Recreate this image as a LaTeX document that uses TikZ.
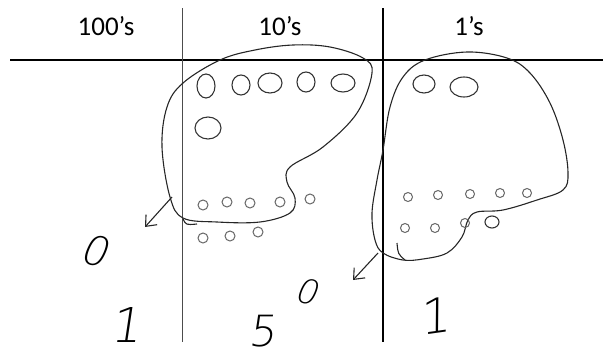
\documentclass[tikz,border=0pt]{standalone}
\usepackage{fontspec}
\setmainfont{Carlito}
\newfontfamily\penfont{DejaVu Sans ExtraLight}[FakeSlant=0.15]
\usetikzlibrary{arrows.meta}

\begin{document}
\begin{tikzpicture}[x=1pt, y=-1pt,
          rule/.style={draw=black, line width=1.4pt},
          ring/.style={draw=black!85, line width=1.1pt},
          bigbead/.style={draw=black!80, line width=1.1pt},
          bead/.style={draw=black!60, line width=1pt},
          penarrow/.style={draw=black!85, line width=1.1pt, -{Straight Barb[length=9pt,width=15pt]}},
          head/.style={font=\fontsize{27}{32}\selectfont, anchor=base, inner sep=0pt},
          digit/.style={inner sep=0pt, text=black},
        ]
        \useasboundingbox (0,0) rectangle (603,356);
        \draw[rule] (10,60) -- (603,60);
        \draw[rule, draw=black!70, line width=0.9pt] (182,8) -- (182,342);
        \draw[rule, line width=1.6pt] (383,8) -- (383,342);
        \node[head] (h100) at (106,35) {100's};
        \node[head] (h10) at (280,35) {10's};
        \node[head] (h1) at (469,35) {1's};
        \draw[ring] plot[smooth cycle, tension=0.6] coordinates {(220,60) (255,50) (293,45) (330,47) (363,58) (372,73) (357,113) (323,147) (290,167) (287,182) (295,198) (290,213) (260,222) (217,222) (183,218) (170,197) (162,147) (167,107) (183,83)};
        \draw[ring] (183,219) .. controls (186,225) .. (197,224);
        \draw[ring] plot[smooth cycle, tension=0.6] coordinates {(425,60) (467,52) (507,58) (530,73) (550,103) (563,140) (568,173) (563,190) (537,200) (503,210) (477,212) (468,220) (462,237) (447,253) (423,259) (403,260) (383,253) (375,240) (372,213) (377,180) (383,150) (390,107) (403,77)};
        \draw[ring] (397,243) .. controls (398,254) .. (405,260);
        \draw[bigbead] (206,86) ellipse [x radius=9, y radius=12];
        \draw[bigbead] (241,85) ellipse [x radius=9, y radius=10];
        \draw[bigbead] (270,83) ellipse [x radius=12, y radius=10];
        \draw[bigbead] (306,82) ellipse [x radius=9, y radius=10];
        \draw[bigbead] (343,83) ellipse [x radius=12, y radius=9];
        \draw[bigbead] (208,128) ellipse [x radius=13, y radius=11];
        \draw[bigbead] (424,84) ellipse [x radius=11, y radius=9];
        \draw[bigbead] (464,87) ellipse [x radius=14, y radius=10];
        \foreach \bx/\by in {203/205, 227/202, 250/203, 280/202, 310/199, 203/238, 230/236, 258/232}
          \draw[bead] (\bx,\by) circle [radius=5];
        \foreach \bx/\by in {408/197, 438/195, 470/194, 500/193, 527/193, 405/228, 435/228, 465/223}
          \draw[bead] (\bx,\by) circle [radius=4.5];
        \draw[bigbead] (492,222) ellipse [x radius=7, y radius=6];
        \coordinate (from10) at (172,197);
        \coordinate (to100) at (145,227);
        \draw[penarrow] (from10) -- (to100);
        \coordinate (from1) at (378,253);
        \coordinate (to10) at (353,280);
        \draw[penarrow] (from1) -- (to10);
        \node[digit, font=\fontsize{41}{44}\penfont, rotate=-15] (carry100) at (95,250) {0};
        \node[digit, font=\fontsize{34}{38}\penfont, rotate=-15] (carry10) at (307,291) {0};
        \node[digit, font=\fontsize{48}{52}\penfont] (sum100) at (126,325) {1};
        \node[digit, font=\fontsize{43}{47}\penfont] (sum10) at (262,331) {5};
        \node[digit, font=\fontsize{48}{52}\penfont, rotate=8] (sum1) at (434,316) {1};
      \end{tikzpicture}
\end{document}
